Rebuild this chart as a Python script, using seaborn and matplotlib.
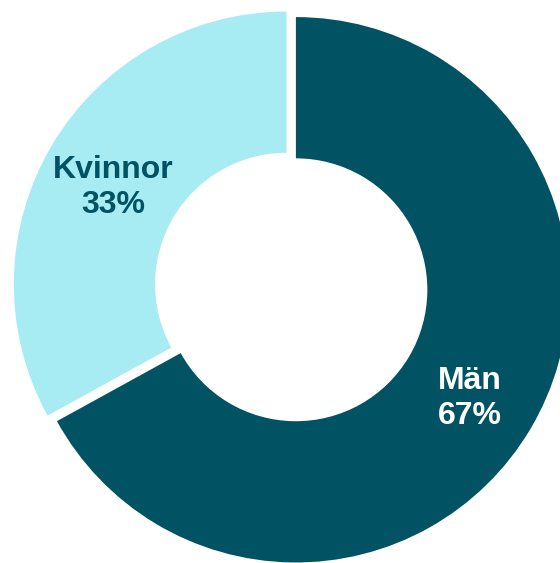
"""
Könsfördelning - ringdiagram
"""

import numpy as np
import matplotlib
matplotlib.use('Agg')
import matplotlib.pyplot as plt
import seaborn as sns

# data
kategorier = ['Män', 'Kvinnor']
andelar = [67, 33]
farger = ['#015364', '#a7ecf3']
textfarger = ['white', '#015364']

sns.set_theme(style='white')
plt.rcParams['font.family'] = ['Liberation Sans', 'DejaVu Sans']

fig = plt.figure(figsize=(5.6, 5.63), dpi=100)
ax = fig.add_axes([0, 0, 1, 1])

explode = 0.02
wedges, _ = ax.pie(
    andelar,
    colors=farger,
    startangle=90,
    counterclock=False,
    explode=[explode, explode],
    wedgeprops=dict(width=0.518, linewidth=0),
)

# etiketter mitt i varje segment
for w, namn, v, tc in zip(wedges, kategorier, andelar, textfarger):
    mid = np.deg2rad((w.theta1 + w.theta2) / 2)
    r = 0.74 + explode
    ax.text(r * np.cos(mid), r * np.sin(mid) - 0.022, f'{namn}\n{v}%',
            ha='center', va='center', fontsize=23, fontweight='bold',
            color=tc, linespacing=1.25)

# utsnitt så att ringen hamnar som i originalet (höger kant beskuren)
R = 272.7
ax.set_xlim(-291.2 / R, (560 - 291.2) / R)
ax.set_ylim(-(563 - 287) / R, 287 / R)
ax.set_aspect('auto')
ax.axis('off')

fig.savefig('out.png', dpi=100)
plt.close(fig)
